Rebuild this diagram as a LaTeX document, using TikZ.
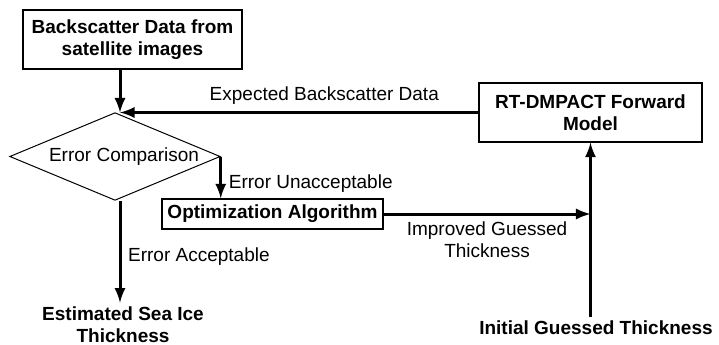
\documentclass[tikz,border=0pt]{standalone}
\usepackage{fontspec}
\setmainfont{Liberation Sans}
\usetikzlibrary{shapes.geometric}
\newcommand\figfont{\fontsize{9.5}{11}\selectfont}

\begin{document}
\begin{tikzpicture}[x=0.5pt,y=-0.5pt,
  box/.style={draw,line width=0.6pt,inner sep=0pt,align=center,font=\figfont\bfseries},
  flow/.style={->,>=latex,line width=1.5pt},
  lbl/.style={font=\figfont}]
 \useasboundingbox (0,0) rectangle (719,344);

 \node [box,minimum width=109.5pt,minimum height=29.5pt] (src) at (132.5,39.5) {Backscatter Data from\\satellite images};
 \node [box,minimum width=111.5pt,minimum height=29.5pt] (fwd) at (590.5,112.5) {RT-DMPACT Forward\\Model};
 \node [box,minimum width=110.5pt,minimum height=15pt] (opt) at (272.5,214) {Optimization Algorithm};
 \node [diamond,draw,line width=0.5pt,inner sep=0pt,aspect=2.4,minimum width=105pt,minimum height=43.5pt,text width=84pt,align=flush right,lbl] (cmp) at (115,156.5) {Error Comparison};
 \node [font=\figfont\bfseries,align=center,inner sep=2pt] (est) at (123,325) {Estimated Sea Ice\\Thickness};
 \node [font=\figfont\bfseries,inner sep=2pt] (init) at (596,328) {Initial Guessed Thickness};
 \coordinate (join) at (120,112.5);

 \draw[flow] (src.south -| join) -- (join);
 \draw[flow] (fwd.west) -- node[above,pos=0.43,lbl] {Expected Backscatter Data} (join);
 \draw[flow] (cmp.east) -- node[right,pos=0.65,lbl] {Error Unacceptable} (cmp.east |- opt.north);
 \draw[flow] (join |- cmp.south) -- node[right,pos=0.55,lbl] {Error Acceptable} (join |- est.north);
 \draw[flow] (opt.east) -- node[below,align=center,lbl] {Improved Guessed\\Thickness} (opt.east -| fwd.south);
 \draw[flow] (fwd.south |- init.north) -- (fwd.south);

\end{tikzpicture}
\end{document}
